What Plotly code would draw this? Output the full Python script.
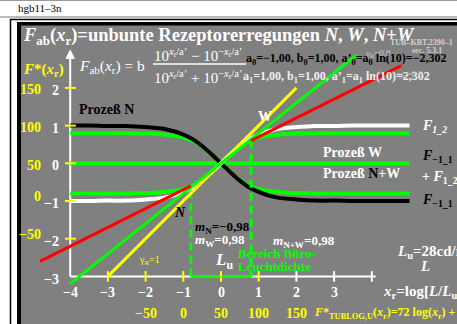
import plotly.graph_objects as go

W, H = 457, 324
# placement of the data origin and size of one data unit in pixels
X0PX, Y0PX, UNIT = 221.0, 163.3, 37.7

# sample positions along x_r for the saturating curves
x_curve = [-4, -3.5, -3, -2.5, -2, -1.5, -1.25, -1, -0.75, -0.5, -0.25, 0,
           0.25, 0.5, 0.75, 1, 1.25, 1.5, 2, 2.5, 3, 3.5, 4, 4.5, 5]
# process N (black) and the complementary white curve F_1_2
f_black = [1.00, 1.00, 0.99, 0.99, 0.96, 0.91, 0.85, 0.76, 0.64, 0.46, 0.24, 0.00,
           -0.24, -0.46, -0.64, -0.76, -0.85, -0.91, -0.96, -0.99, -0.99, -1.00, -1.00, -1.00, -1.00]
f_white = [-1.00, -1.00, -0.99, -0.99, -0.96, -0.91, -0.85, -0.76, -0.64, -0.46, -0.24, 0.00,
           0.24, 0.46, 0.64, 0.76, 0.85, 0.91, 0.96, 0.99, 0.99, 1.00, 1.00, 1.00, 1.00]
# green pair with the lower plateau
f_green_down = [0.80, 0.80, 0.80, 0.80, 0.79, 0.76, 0.73, 0.68, 0.59, 0.44, 0.24, 0.00,
                -0.24, -0.44, -0.59, -0.68, -0.73, -0.76, -0.79, -0.80, -0.80, -0.80, -0.80, -0.80, -0.80]
f_green_up = [-0.80, -0.80, -0.80, -0.80, -0.79, -0.76, -0.73, -0.68, -0.59, -0.44, -0.24, 0.00,
              0.24, 0.44, 0.59, 0.68, 0.73, 0.76, 0.79, 0.80, 0.80, 0.80, 0.80, 0.80, 0.80]
# process W: flat line
x_flat = [-4, 5]
f_flat = [0.0, 0.0]

# straight gamma lines
yellow_x, yellow_y = [-3.0, 2.0], [-3.0, 2.0]          # gamma_R = 1
green_x, green_y = [-4.0, 3.6], [-3.2, 2.88]           # gamma_R = 0,8
red_lo_x, red_lo_y = [-4.8, -0.8], [-2.6, -0.6]        # gamma_R = 0,6
red_hi_x, red_hi_y = [0.8, 4.78], [0.6, 2.59]

# office luminance range
range_x = [-0.8, 0.8]
range_top = [-0.72, 0.6]
axis_bottom = -3.0

# axis ticks
x_ticks = [-4, -3, -2, -1, 0, 1, 2, 3]
x_tick_text = ["\u22124", "\u22123", "\u22122", "\u22121", "0", "1", "2", "3"]
x_ticks_yellow = [-3, -2, -1, 0, 1]
x_ticks_white = [2, 3, 4]
fx_ticks = [-2, -1, 0, 1, 2]
fx_tick_text = ["\u221250", "0", "50", "100", "150"]
y_ticks = [2, 1, 0, -1, -2, -3]
y_tick_text = ["2", "1", "0", "\u22121", "\u22122", "\u22123"]
y_ticks_yellow = [2, 1, 0, -1, -2]
fy_ticks = [2, 1, 0, -1, -2]
fy_tick_text = ["150", "100", "50", "0", "\u221250"]

SERIF = "Liberation Serif"
GRAY = "#808080"
YEL = "#ffff00"
GRN = "#00ff00"


def px(xp):
    return xp / W


def py(yp):
    return 1 - yp / H


fig = go.Figure()


def line(xs, ys, color, width, dash=None, shape="spline"):
    fig.add_trace(go.Scatter(x=xs, y=ys, mode="lines",
                             line=dict(color=color, width=width, dash=dash, shape=shape),
                             hoverinfo="skip", showlegend=False))


# curves
line(x_flat, f_flat, GRN, 4, shape="linear")
line(x_curve, f_green_down, GRN, 4)
line(x_curve, f_green_up, GRN, 4)
line(x_curve, f_black, "#000000", 4)
line(x_curve, f_white, "#ffffff", 4)

# luminance range markers
for xv, yt in zip(range_x, range_top):
    line([xv, xv], [yt, axis_bottom], GRN, 3, dash="8px,5px", shape="linear")
line(range_x, [axis_bottom, axis_bottom], GRN, 3, shape="linear")

# gamma lines
line(yellow_x, yellow_y, "#ffff00", 3, shape="linear")
line(green_x, green_y, GRN, 3, shape="linear")
line(red_lo_x, red_lo_y, "#ff0000", 3, shape="linear")
line(red_hi_x, red_hi_y, "#ff0000", 3, shape="linear")

shapes = []
# page decorations
shapes.append(dict(type="line", xref="paper", yref="paper", x0=0, x1=1, y0=py(0.5), y1=py(0.5),
                   line=dict(color="#999999", width=1)))
shapes.append(dict(type="line", xref="paper", yref="paper", x0=0, x1=1, y0=py(17), y1=py(17),
                   line=dict(color="#777777", width=1)))
shapes.append(dict(type="rect", xref="paper", yref="paper", x0=px(10.5), x1=px(470), y0=py(19.5), y1=py(340),
                   line=dict(color="#000000", width=1.5), fillcolor="#ffffff", layer="below"))
shapes.append(dict(type="rect", xref="paper", yref="paper", x0=px(17), x1=px(470), y0=py(22), y1=py(340),
                   line=dict(width=0), fillcolor="#000000", layer="below"))
shapes.append(dict(type="rect", xref="paper", yref="paper", x0=px(21), x1=px(470), y0=py(25.5), y1=py(340),
                   line=dict(width=0), fillcolor=GRAY, layer="below"))
# axes
shapes.append(dict(type="line", xref="x", yref="y", x0=-4, x1=-4, y0=-3, y1=2.85,
                   line=dict(color="#ffffff", width=2), layer="below"))
shapes.append(dict(type="path", xref="x", yref="y",
                   path="M -4.11,2.78 L -4,3.0 L -3.89,2.78 Z",
                   fillcolor="#ffffff", line=dict(color="#ffffff", width=1)))
shapes.append(dict(type="line", xref="x", yref="y", x0=-4, x1=4.1, y0=-3, y1=-3,
                   line=dict(color="#ffffff", width=2), layer="below"))
for t in x_ticks_yellow:
    shapes.append(dict(type="line", xref="x", yref="y", x0=t, x1=t, y0=-3.14, y1=-2.86,
                       line=dict(color=YEL, width=2)))
for t in x_ticks_white:
    shapes.append(dict(type="line", xref="x", yref="y", x0=t, x1=t, y0=-3.14, y1=-2.86,
                       line=dict(color="#ffffff", width=2)))
for t in y_ticks_yellow:
    shapes.append(dict(type="line", xref="x", yref="y", x0=-4.14, x1=-3.85, y0=t, y1=t,
                       line=dict(color=YEL, width=2)))
# fraction bar
shapes.append(dict(type="line", xref="paper", yref="paper", x0=px(153), x1=px(246), y0=py(64), y1=py(64),
                   line=dict(color="#ffffff", width=1.5)))

anns = []


def ann(text, xp, yp, size, color, anchor="left", bold=True, italic=False):
    if italic:
        text = "<i>" + text + "</i>"
    if bold:
        text = "<b>" + text + "</b>"
    anns.append(dict(text=text, x=px(xp), y=py(yp), xref="paper", yref="paper",
                     xanchor=anchor, yanchor="middle", showarrow=False,
                     font=dict(family=SERIF, size=size, color=color)))


# tick labels
for t, s in zip(x_ticks, x_tick_text):
    anns.append(dict(text="<b>" + s + "</b>", x=t, y=py(292), xref="x", yref="paper",
                     xanchor="center", yanchor="middle", showarrow=False,
                     font=dict(family=SERIF, size=14, color="#ffffff")))
for t, s in zip(fx_ticks, fx_tick_text):
    anns.append(dict(text="<b>" + s + "</b>", x=t, y=py(313.5), xref="x", yref="paper",
                     xanchor="center", yanchor="middle", showarrow=False,
                     font=dict(family=SERIF, size=14, color=YEL)))
for t, s in zip(y_ticks, y_tick_text):
    anns.append(dict(text="<b>" + s + "</b>", x=px(61), y=t - 0.07, xref="paper", yref="y",
                     xanchor="right", yanchor="middle", showarrow=False,
                     font=dict(family=SERIF, size=14, color="#ffffff")))
for t, s in zip(fy_ticks, fy_tick_text):
    anns.append(dict(text="<b>" + s + "</b>", x=px(43), y=t + (0.12 if t < 0 else -0.05), xref="paper", yref="y",
                     xanchor="right", yanchor="middle", showarrow=False,
                     font=dict(family=SERIF, size=14, color=YEL)))

ann("hgb11\u20133n", 16, 8, 11, "#000000", bold=False)
ann("<i>F</i><sub>ab</sub>(<i>x</i><sub>r</sub>)=unbunte Rezeptorerregungen <i>N</i>, <i>W</i>, <i>N</i>+<i>W</i>",
    21, 37, 18.5, "#ffffff")
ann("TUB\u2013KBT.2390\u20131", 388, 42, 8, "#d0d0d0")
ann("sec. 5.3.1", 410, 50, 8, "#d0d0d0")
ann("<i>F</i>*(<i>x</i><sub>r</sub>)", 21, 70, 15, YEL)
ann("<i>F</i><sub>ab</sub>(<i>x</i><sub>r</sub>) = b", 77, 66, 15.5, "#ffffff", bold=False)
ann("10<sup><i>x</i><sub>r</sub>/a\u2019</sup> \u2212 10<sup>\u2212<i>x</i><sub>r</sub>/a\u2019</sup>", 152, 55, 15, "#ffffff", bold=False)
ann("10<sup><i>x</i><sub>r</sub>/a\u2019</sup> + 10<sup>\u2212<i>x</i><sub>r</sub>/a\u2019</sup>", 152, 77, 15, "#ffffff", bold=False)
ann("a<sub>0</sub>=\u22121,00, b<sub>0</sub>=1,00, a\u2019<sub>0</sub>=a<sub>0</sub> ln(10)=\u22122,302", 244, 59, 12, "#000000")
ann("a<sub>1</sub>=1,00, b<sub>1</sub>=1,00, a\u2019<sub>1</sub>=a<sub>1</sub> ln(10)=2,302", 241, 77, 12, "#f0f0f0")
ann("\u03b3<sub>R</sub>=0,8", 363, 53, 9, "#c8c8c8", bold=False)
ann("\u03b3<sub>R</sub>=0,6", 395, 74, 9, "#c8c8c8", bold=False)
ann("Proze\u00df N", 77, 110, 14, "#000000")
ann("W", 256, 116, 14, "#ffffff")
ann("<i>F</i><sub>1_2</sub>", 420, 127, 14, "#ffffff", italic=True)
ann("Proze\u00df W", 321, 152, 14, "#ffffff")
ann("<i>F</i><sub>\u22121_1</sub>", 420, 157, 14, "#000000")
ann("Proze\u00df <span style='color:#000000'>N</span>+W", 321, 173, 14, "#ffffff")
ann("+ <i>F</i><sub>1_2</sub>", 420, 177, 14, "#ffffff")
ann("<i>F</i><sub>\u22121_1</sub>", 420, 200, 14, "#000000")
ann("N", 172, 212, 14, "#000000", italic=True)
ann("<i>m</i><sub>N</sub>=\u22120,98", 193, 227, 13, "#000000")
ann("<i>m</i><sub>W</sub>=0,98", 193, 240, 13, "#ffffff")
ann("<i>m</i><sub>N+W</sub>=0,98", 271, 241, 13, "#ffffff")
ann("Bereich B\u00fcro-", 236, 253, 13, GRN)
ann("Leuchtdichte", 236, 266, 13, GRN)
ann("<i>L</i><sub>u</sub>", 213, 261, 17, "#ffffff")
ann("\u03b3<sub>R</sub>=1", 137, 260, 10, YEL, bold=False)
ann("<i>L</i><sub>u</sub>=28cd/m\u00b2", 395, 252, 15, "#ffffff")
ann("<i>L</i>", 418, 266, 15, "#ffffff")
ann("<i>x</i><sub>r</sub>=log[<i>L</i>/<i>L</i><sub>u</sub>]", 381, 292, 15, "#ffffff")
ann("<i>F</i>*<sub>TUBLOG,U</sub>(<i>x</i><sub>r</sub>)=72 log(<i>x</i><sub>r</sub>) +", 312, 313, 12, YEL)

fig.update_layout(
    width=W, height=H,
    margin=dict(l=0, r=0, t=0, b=0, pad=0),
    paper_bgcolor="#ffffff", plot_bgcolor="rgba(0,0,0,0)",
    xaxis=dict(range=[-X0PX / UNIT, (W - X0PX) / UNIT], visible=False, fixedrange=True),
    yaxis=dict(range=[(Y0PX - H) / UNIT, Y0PX / UNIT], visible=False, fixedrange=True),
    shapes=shapes, annotations=anns, showlegend=False,
)

fig.write_html("out.html")
